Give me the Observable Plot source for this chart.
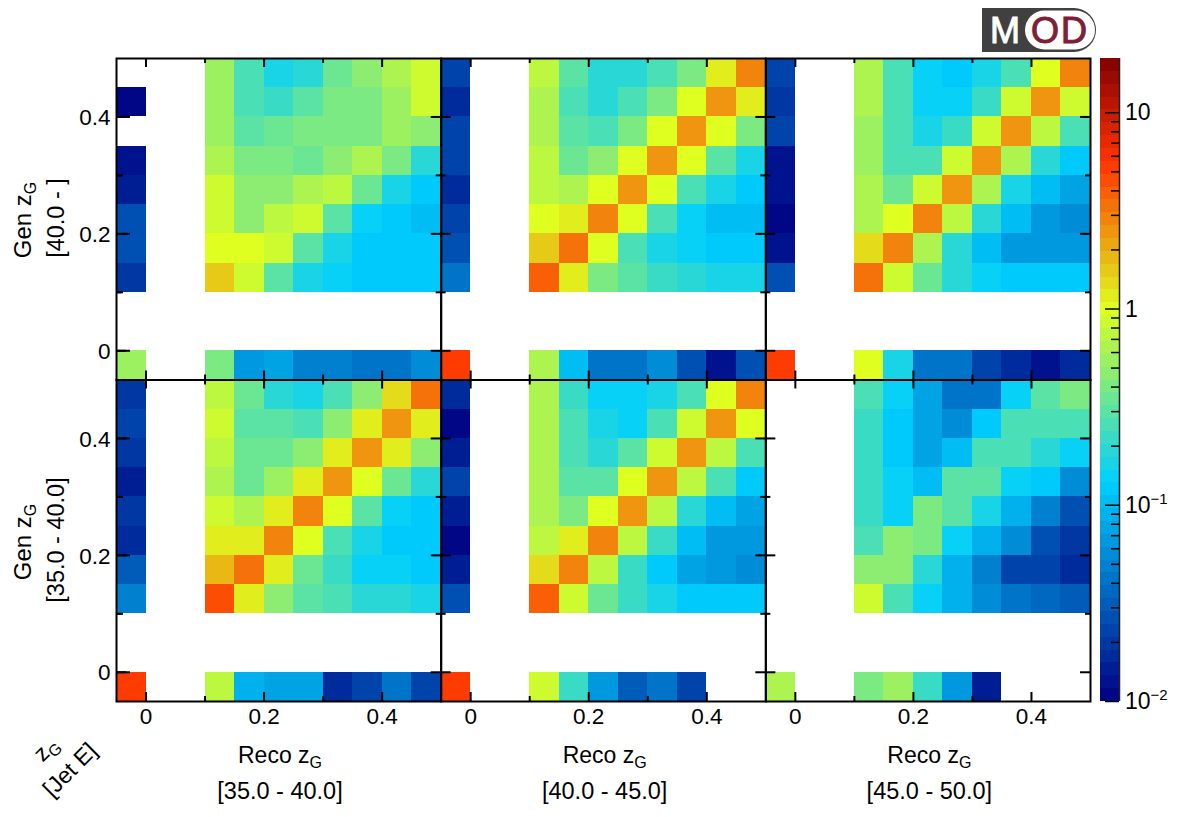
<!DOCTYPE html>
<html>
<head>
<meta charset="utf-8">
<script src="https://cdn.jsdelivr.net/npm/d3@7"></script>
<script src="https://cdn.jsdelivr.net/npm/@observablehq/plot@0.6"></script>
<style>
  body { margin: 0; background: #fff; font-family: "Liberation Sans", sans-serif; color: #000; }
  #page { position: relative; width: 1181px; height: 817px; overflow: hidden; }
  #page svg { position: absolute; }
  .lbl { position: absolute; font-size: 23px; line-height: 1; white-space: nowrap; transform: translate(-50%, -50%); }
  .lbl sub { font-size: 16px; line-height: 0; vertical-align: -5px; }
  .lbl sup { font-size: 15px; line-height: 0; vertical-align: 9px; }
  .rot { transform: translate(-50%, -50%) rotate(-90deg); font-size: 24px; }
  .diag { transform: translate(-50%, -50%) rotate(-45deg); }
  .bar { transform: translate(0, -50%); font-size: 23px; }
  .bin { font-size: 23.5px; }
</style>
</head>
<body>
<div id="page"></div>
<script>
// bin labels, gen rows go top to bottom, reco columns left to right
const recoBins = ["35.0 - 40.0", "40.0 - 45.0", "45.0 - 50.0"];
const genBins = ["40.0 - ", "35.0 - 40.0"];
const rowEdges = [0.45, 0.40, 0.35, 0.30, 0.25, 0.20, 0.15, 0.10, -0.05];
const colEdges = [-0.05, 0.10, 0.15, 0.20, 0.25, 0.30, 0.35, 0.40, 0.45];

// bin contents, first column is the untagged bin, last row too
const gen40reco35 = [
    [null, 0.55, 0.24, 0.165, 0.19, 0.33, 0.48, 0.68, 0.83],
    [0.0102, 0.55, 0.25, 0.23, 0.30, 0.38, 0.42, 0.55, 0.85],
    [null, 0.55, 0.28, 0.33, 0.39, 0.40, 0.42, 0.55, 0.50],
    [0.0135, 0.64, 0.39, 0.42, 0.36, 0.48, 0.64, 0.39, 0.19],
    [0.0155, 0.80, 0.44, 0.45, 0.60, 0.73, 0.36, 0.155, 0.125],
    [0.027, 0.90, 0.48, 0.74, 0.80, 0.30, 0.145, 0.112, 0.103],
    [0.025, 0.95, 1.05, 0.85, 0.28, 0.16, 0.125, 0.128, 0.118],
    [0.021, 1.6, 0.92, 0.28, 0.175, 0.15, 0.12, 0.115, 0.115],
    [0.55, 0.40, 0.067, 0.082, 0.05, 0.047, 0.044, 0.041, 0.054]
];
const gen40reco40 = [
    [0.023, 0.73, 0.28, 0.19, 0.185, 0.25, 0.43, 1.25, 2.9],
    [0.0165, 0.68, 0.26, 0.20, 0.24, 0.40, 1.0, 2.3, 1.25],
    [0.024, 0.68, 0.32, 0.27, 0.40, 0.95, 2.3, 1.02, 0.42],
    [0.022, 0.74, 0.37, 0.48, 0.95, 2.4, 1.02, 0.30, 0.16],
    [0.0165, 0.78, 0.60, 1.02, 2.5, 1.0, 0.26, 0.155, 0.13],
    [0.022, 1.0, 1.08, 2.9, 0.98, 0.25, 0.145, 0.11, 0.105],
    [0.027, 1.55, 3.1, 0.96, 0.27, 0.165, 0.138, 0.13, 0.118],
    [0.044, 3.9, 1.08, 0.42, 0.28, 0.23, 0.195, 0.165, 0.175],
    [5.6, 0.60, 0.103, 0.04, 0.042, 0.055, 0.027, 0.013, 0.027]
];
const gen40reco45 = [
    [0.023, 0.60, 0.24, 0.15, 0.127, 0.155, 0.27, 0.94, 2.9],
    [0.019, 0.60, 0.24, 0.145, 0.145, 0.22, 0.86, 2.3, 0.87],
    [0.022, 0.58, 0.24, 0.16, 0.215, 0.80, 2.3, 0.71, 0.24],
    [0.013, 0.58, 0.27, 0.255, 0.86, 2.3, 0.67, 0.195, 0.118],
    [0.0135, 0.60, 0.36, 0.86, 2.5, 0.67, 0.17, 0.105, 0.08],
    [0.0108, 0.65, 1.02, 2.7, 0.70, 0.185, 0.10, 0.07, 0.06],
    [0.0125, 1.35, 2.7, 0.68, 0.195, 0.107, 0.07, 0.066, 0.066],
    [0.025, 3.5, 0.85, 0.33, 0.185, 0.15, 0.13, 0.125, 0.114],
    [5.6, 0.98, 0.165, 0.043, 0.04, 0.024, 0.017, 0.0125, 0.017]
];
const gen35reco35 = [
    [0.02, 0.74, 0.33, 0.195, 0.17, 0.26, 0.50, 1.35, 3.1],
    [0.022, 0.92, 0.30, 0.28, 0.25, 0.48, 1.1, 2.5, 1.25],
    [0.02, 0.76, 0.36, 0.33, 0.44, 1.08, 2.5, 1.08, 0.45],
    [0.014, 0.68, 0.37, 0.55, 1.08, 2.5, 1.02, 0.36, 0.195],
    [0.02, 0.85, 0.60, 1.15, 2.7, 1.02, 0.30, 0.15, 0.125],
    [0.018, 1.08, 1.25, 2.9, 1.02, 0.25, 0.16, 0.112, 0.115],
    [0.032, 1.7, 3.3, 1.08, 0.33, 0.22, 0.15, 0.15, 0.125],
    [0.052, 4.2, 1.17, 0.48, 0.30, 0.27, 0.195, 0.185, 0.17],
    [5.6, 0.71, 0.085, 0.08, 0.073, 0.016, 0.022, 0.04, 0.024]
];
const gen35reco40 = [
    [0.018, 0.68, 0.225, 0.15, 0.148, 0.17, 0.27, 0.94, 2.9],
    [0.0102, 0.62, 0.24, 0.175, 0.135, 0.27, 0.87, 2.3, 0.94],
    [0.0155, 0.62, 0.26, 0.18, 0.29, 0.88, 2.3, 0.76, 0.27],
    [0.023, 0.62, 0.28, 0.30, 0.94, 2.5, 0.70, 0.25, 0.125],
    [0.014, 0.60, 0.39, 1.02, 2.5, 0.70, 0.195, 0.105, 0.08],
    [0.0102, 0.76, 1.08, 2.7, 0.73, 0.225, 0.105, 0.07, 0.07],
    [0.0155, 1.35, 2.9, 0.74, 0.225, 0.12, 0.08, 0.066, 0.06],
    [0.027, 3.6, 0.92, 0.36, 0.225, 0.16, 0.13, 0.13, 0.13],
    [5.6, 0.80, 0.225, 0.066, 0.03, 0.04, 0.023, null, null]
];
const gen35reco45 = [
    [null, 0.25, 0.14, 0.08, 0.044, 0.044, 0.14, 0.30, 0.42],
    [null, 0.23, 0.118, 0.075, 0.055, 0.125, 0.25, 0.25, 0.26],
    [null, 0.23, 0.112, 0.08, 0.105, 0.25, 0.27, 0.185, 0.135],
    [null, 0.23, 0.15, 0.11, 0.30, 0.29, 0.15, 0.112, 0.06],
    [null, 0.23, 0.15, 0.39, 0.30, 0.16, 0.085, 0.052, 0.027],
    [null, 0.25, 0.44, 0.39, 0.15, 0.085, 0.055, 0.025, 0.02],
    [null, 0.50, 0.48, 0.185, 0.09, 0.05, 0.024, 0.024, 0.018],
    [null, 0.85, 0.26, 0.15, 0.09, 0.06, 0.045, 0.037, 0.032],
    [0.60, 0.42, 0.58, 0.225, 0.066, 0.0155, null, null, null]
];

const panels = [
    { gen: genBins[0], reco: recoBins[0], rows: gen40reco35 },
    { gen: genBins[0], reco: recoBins[1], rows: gen40reco40 },
    { gen: genBins[0], reco: recoBins[2], rows: gen40reco45 },
    { gen: genBins[1], reco: recoBins[0], rows: gen35reco35 },
    { gen: genBins[1], reco: recoBins[1], rows: gen35reco40 },
    { gen: genBins[1], reco: recoBins[2], rows: gen35reco45 }
];

const zMin = 0.01;
const zMax = 18.9;
const nContours = 50;

// ROOT rainbow style palette, cut into flat contours like the z axis
const paletteStops = [0, 0.34, 0.61, 0.84, 1];
const stopColors = ["#000082", "#00cfff", "#deff1f", "#ff3300", "#820000"];
const smooth = d3.scaleLinear().domain(paletteStops).range(stopColors).interpolate(d3.interpolateRgb);
const palette = (t) => smooth((Math.min(Math.floor(t * nContours), nContours - 1) + 0.5) / nContours);

const padLeft = 116, padTop = 58, panelW = 324.67, panelH = 321.5;

const renderDashboard = () => {
    const page = document.getElementById("page");

    // Flatten the panels into one rect per filled bin
    const cells = [];
    panels.forEach((panel) => {
        panel.rows.forEach((row, r) => {
            row.forEach((value, c) => {
                if (value == null) return;
                const x1 = colEdges[c];
                const y1 = rowEdges[r];
                cells.push({
                    gen: panel.gen,
                    reco: panel.reco,
                    value,
                    x1,
                    x2: c === 0 ? 0 : x1 + 0.05,
                    y1,
                    y2: r === 8 ? 0 : y1 + 0.05
                });
            });
        });
    });

    const xMajor = [0, 0.2, 0.4], xMinor = [0.1, 0.3];
    const yMajor = [0, 0.2, 0.4], yMinor = [0.1, 0.3];
    const tickLabel = (d) => String(d);

    const chart = Plot.plot({
        width: 1181,
        height: 817,
        marginLeft: padLeft,
        marginRight: 1181 - 1090,
        marginTop: padTop,
        marginBottom: 817 - 701,
        x: { domain: [-0.05, 0.5] },
        y: { domain: [-0.05, 0.5] },
        fx: { domain: recoBins, padding: 0, round: false, axis: null },
        fy: { domain: genBins, padding: 0, round: false, axis: null },
        color: { type: "log", domain: [zMin, zMax], interpolate: palette },
        style: { fontFamily: '"Liberation Sans", sans-serif', background: "transparent" },
        marks: [
            Plot.rect(cells, {
                x1: "x1", x2: "x2", y1: "y1", y2: "y2",
                fx: "reco", fy: "gen", fill: "value", shapeRendering: "crispEdges"
            }),
            // inward ticks on all four sides of each pad
            Plot.tickX(xMajor, { x: (d) => d, insetTop: panelH - 9, stroke: "#000", strokeWidth: 2 }),
            Plot.tickX(xMajor, { x: (d) => d, insetBottom: panelH - 9, stroke: "#000", strokeWidth: 2 }),
            Plot.tickX(xMinor, { x: (d) => d, insetTop: panelH - 5, stroke: "#000", strokeWidth: 2 }),
            Plot.tickX(xMinor, { x: (d) => d, insetBottom: panelH - 5, stroke: "#000", strokeWidth: 2 }),
            Plot.tickY(yMajor, { y: (d) => d, insetRight: panelW - 10, stroke: "#000", strokeWidth: 2 }),
            Plot.tickY(yMajor, { y: (d) => d, insetLeft: panelW - 10, stroke: "#000", strokeWidth: 2 }),
            Plot.tickY(yMinor, { y: (d) => d, insetRight: panelW - 5, stroke: "#000", strokeWidth: 2 }),
            Plot.tickY(yMinor, { y: (d) => d, insetLeft: panelW - 5, stroke: "#000", strokeWidth: 2 }),
            // the left column has longer ticks on its outer edge
            Plot.tickY(yMajor, { y: (d) => d, fx: () => recoBins[0], insetRight: panelW - 14, stroke: "#000", strokeWidth: 2 }),
            Plot.tickY(yMinor, { y: (d) => d, fx: () => recoBins[0], insetRight: panelW - 7, stroke: "#000", strokeWidth: 2 }),
            Plot.frame({ stroke: "#000", strokeWidth: 2 }),
            Plot.axisX(xMajor, { anchor: "bottom", tickSize: 0, tickPadding: 7, fontSize: 22.5, label: null, tickFormat: tickLabel }),
            Plot.axisY(yMajor, { anchor: "left", tickSize: 0, tickPadding: 6, dy: 1, fontSize: 22.5, label: null, tickFormat: tickLabel })
        ]
    });
    chart.style.left = "0px";
    chart.style.top = "0px";
    page.append(chart);

    // z axis palette, one flat band per contour
    const logSpan = Math.log10(zMax / zMin);
    const band = (i) => zMin * Math.pow(10, (logSpan * i) / nContours);
    const bands = d3.range(nContours);
    const decades = [0.01, 0.1, 1, 10];
    const minor = [];
    decades.forEach((d) => {
        d3.range(2, 10).forEach((m) => {
            if (d * m < zMax) minor.push(d * m);
        });
    });

    const colorBar = Plot.plot({
        width: 19,
        height: 651,
        marginLeft: 0,
        marginRight: 0,
        marginTop: 4,
        marginBottom: 4,
        x: { domain: [0, 1], axis: null },
        y: { type: "log", domain: [zMin, zMax], axis: null },
        color: { type: "log", domain: [zMin, zMax], interpolate: palette },
        style: { background: "transparent", overflow: "visible" },
        marks: [
            Plot.rect(bands, {
                x1: 0, x2: 1,
                y1: (i) => band(i), y2: (i) => band(i + 1),
                fill: (i) => band(i + 0.5), shapeRendering: "crispEdges"
            }),
            Plot.ruleX([1], { stroke: "#222", strokeWidth: 1.5 }),
            Plot.tickY(decades, { y: (d) => d, insetLeft: 5, stroke: "#000", strokeWidth: 1.5 }),
            Plot.tickY(minor, { y: (d) => d, insetLeft: 11, stroke: "#000", strokeWidth: 1.5 })
        ]
    });
    colorBar.style.left = "1100px";
    colorBar.style.top = "54px";
    page.append(colorBar);

    // Text with sub and superscripts sits on top as html
    const addLabel = (html, x, y, cls) => {
        const el = document.createElement("div");
        el.className = "lbl " + (cls || "");
        el.style.left = x + "px";
        el.style.top = y + "px";
        el.innerHTML = html;
        page.append(el);
    };

    const yBar = colorBar.scale("y");
    addLabel("10", 1125, 54 + yBar.apply(10), "bar");
    addLabel("1", 1125, 54 + yBar.apply(1), "bar");
    addLabel("10<sup>\u22121</sup>", 1125, 54 + yBar.apply(0.1), "bar");
    addLabel("10<sup>\u22122</sup>", 1125, 54 + yBar.apply(0.01), "bar");

    recoBins.forEach((bin, i) => {
        const cx = padLeft + panelW * i + 164;
        addLabel("Reco z<sub>G</sub>", cx, 755);
        addLabel("[" + bin + "]", cx, 792, "bin");
    });
    genBins.forEach((bin, i) => {
        const cy = padTop + panelH * i + 162;
        addLabel("Gen z<sub>G</sub>", 23, cy, "rot");
        addLabel("[" + bin + "]", 57, cy - 2, "rot bin");
    });
    addLabel("z<sub>G</sub>", 46, 749, "diag");
    addLabel("[Jet E]", 70, 770, "diag");

    // MOD logo
    const logo = d3.create("svg").attr("width", 116).attr("height", 46)
        .style("left", "982px").style("top", "7px");
    logo.append("path").attr("d", "M0 1H92A22 22 0 0 1 92 45H0Z").attr("fill", "#404040");
    logo.append("rect").attr("x", 43).attr("y", 3.5).attr("width", 70).attr("height", 39)
        .attr("rx", 19.5).attr("fill", "#fff");
    const logoText = (t, x, fill) => logo.append("text").text(t).attr("x", x).attr("y", 36)
        .attr("fill", fill).attr("stroke", fill).attr("stroke-width", 1).attr("font-size", 36)
        .attr("font-family", '"Liberation Sans", sans-serif');
    logoText("M", 8, "#fff");
    logoText("O", 49, "#7d2035");
    logoText("D", 79, "#7d2035");
    page.append(logo.node());
};

renderDashboard();
</script>
</body>
</html>
